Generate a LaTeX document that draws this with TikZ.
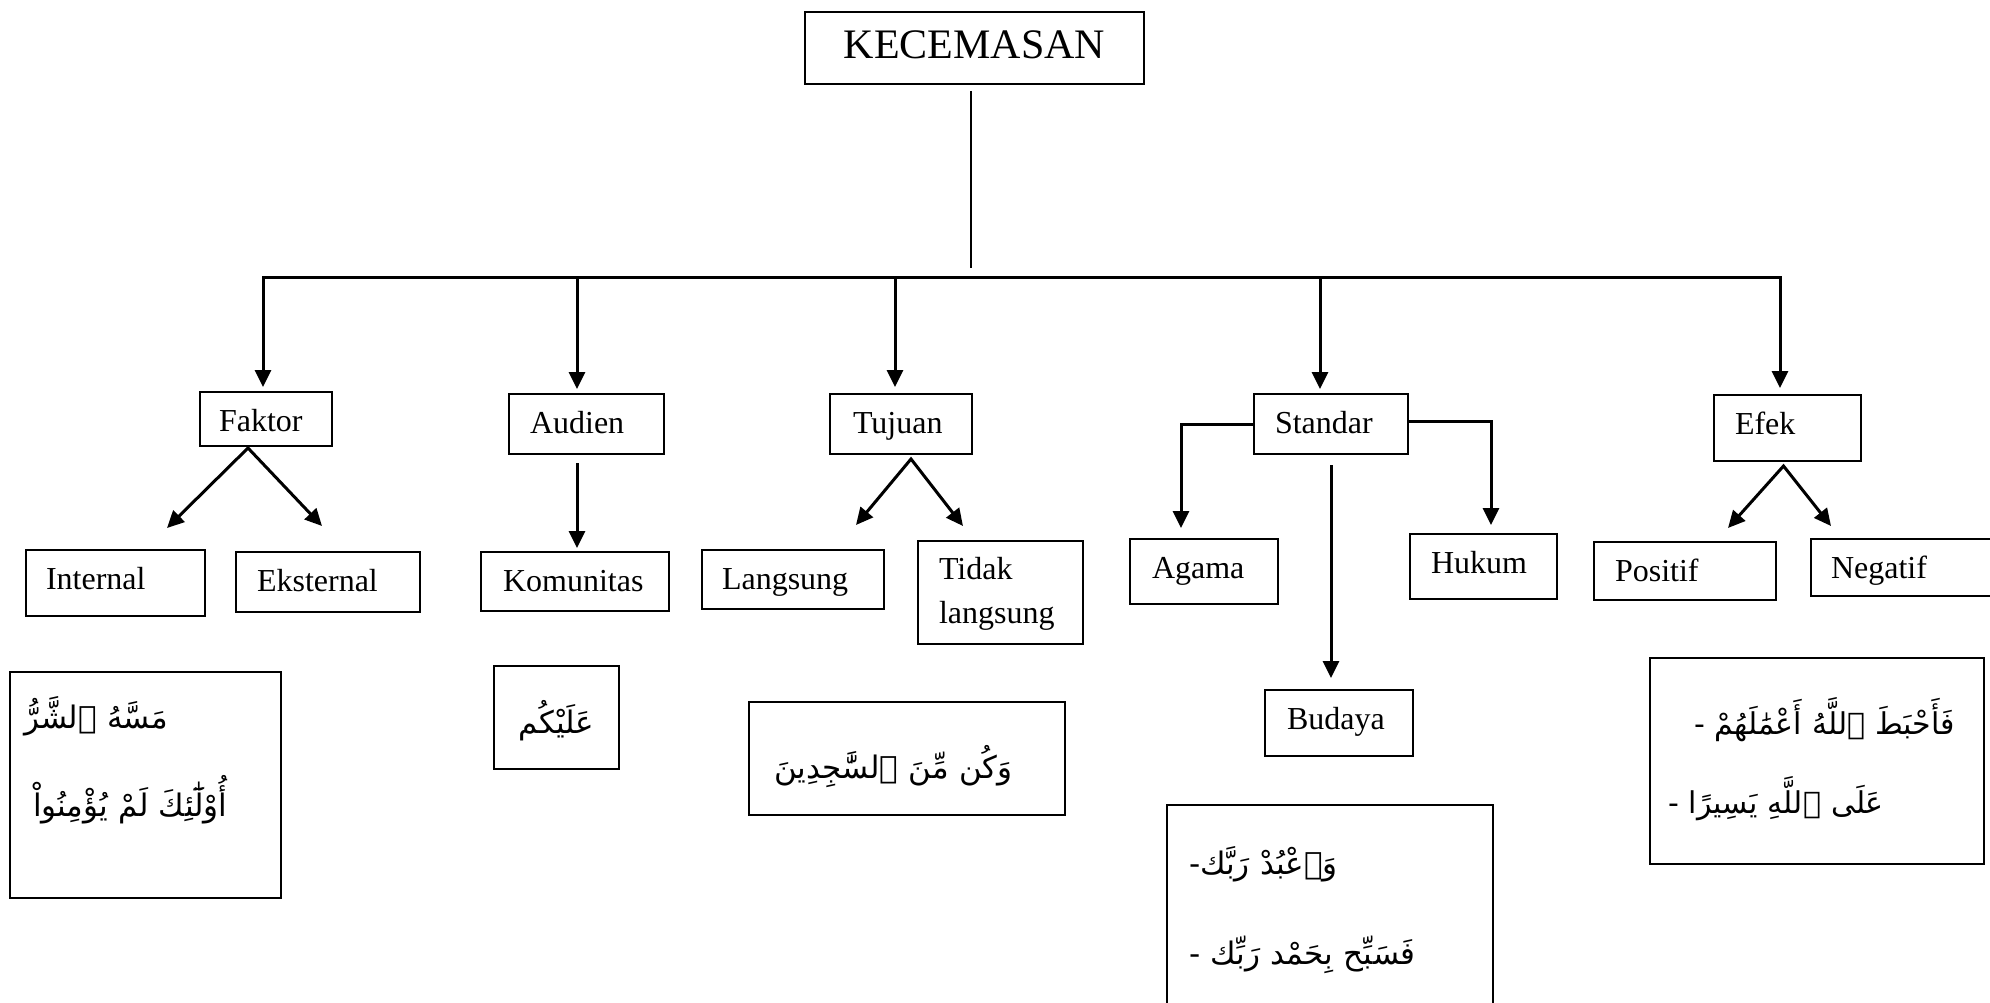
\documentclass[tikz,border=0pt]{standalone}
\usepackage{fontspec}
\setmainfont{Liberation Serif}
\newfontfamily\arabicfont[Script=Arabic]{DejaVu Sans}
\TeXXeTstate=1
\usetikzlibrary{arrows.meta,calc}

\tikzset{
  box/.style={draw, line width=2pt, rectangle, anchor=north west, inner ysep=0pt,
    align=left, font=\fontsize{32}{44}\selectfont},
  geom/.style n args={4}{text width=#1pt, inner xsep=#2pt, text height=#3pt, text depth=#4pt},
  arbox/.style={box, font=\arabicfont\fontsize{31}{88}\selectfont},
  link/.style={line width=3pt, line join=miter},
  tip/.tip={Triangle[length=17pt,width=16pt]},
  arr/.style={link, -tip},
  fork/.style={link, tip-tip},
}

\begin{document}
\begin{tikzpicture}[x=1pt,y=-1pt]
\clip (0,0) rectangle (1990,1003);
\fill[white] (0,0) rectangle (1990,1003);

% root
\node[box, align=center, geom={299}{20}{47}{25}, font=\fontsize{42}{50}\selectfont]
  (root) at (804,11) {KECEMASAN};

% second level
\node[box, geom={94}{19}{39}{15}]  (faktor)  at (199,391)  {Faktor};
\node[box, geom={113}{21}{39}{21}] (audien)  at (508,393)  {Audien};
\node[box, geom={96}{23}{39}{21}]  (tujuan)  at (829,393)  {Tujuan};
\node[box, geom={112}{21}{39}{21}] (standar) at (1253,393) {Standar};
\node[box, geom={105}{21}{39}{27}] (efek)    at (1713,394) {Efek};

% third level
\node[box, geom={139}{20}{39}{27}] (internal)  at (25,549)   {Internal};
\node[box, geom={142}{21}{39}{21}] (eksternal) at (235,551)  {Eksternal};
\node[box, geom={144}{22}{39}{20}] (komunitas) at (480,551)  {Komunitas};
\node[box, geom={142}{20}{39}{20}] (langsung)  at (701,549)  {Langsung};
\node[box, geom={123}{21}{38}{65}] (tidak)     at (917,540)  {Tidak\\langsung};
\node[box, geom={104}{22}{39}{26}] (agama)     at (1129,538) {Agama};
\node[box, geom={105}{21}{39}{26}] (hukum)     at (1409,533) {Hukum};
\node[box, geom={104}{22}{39}{27}] (budaya)    at (1264,689) {Budaya};
\node[box, geom={140}{21}{39}{19}] (positif)   at (1593,541) {Positif};
\node[box, geom={150}{20}{39}{18}] (negatif)   at (1810,538) {Negatif};

% verses
\node[arbox, geom={243}{14}{56}{170}] (q1) at (9,671)
  {\beginR مَسَّهُ ٱلشَّرُّ\endR\\\hspace*{9pt}\beginR أُوْلَٰٓئِكَ لَمْ يُؤْمِنُواْ\endR};
\node[arbox, align=center, geom={105}{10}{67}{36}] (q2) at (493,665)
  {\beginR عَلَيْكُم\endR};
\node[arbox, geom={266}{25}{76}{37}] (q3) at (748,701)
  {\beginR وَكُن مِّنَ ٱلسَّٰجِدِينَ\endR};
\node[arbox, geom={282}{22}{69}{137}, font=\arabicfont\fontsize{31}{90}\selectfont] (q4) at (1166,804)
  {\beginR وَٱعْبُدْ رَبَّك-\endR\\\beginR فَسَبِّح بِحَمْد رَبِّك -\endR};
\node[arbox, geom={298}{18}{76}{130}, font=\arabicfont\fontsize{30}{79}\selectfont] (q5) at (1649,657)
  {\hspace*{26pt}\beginR فَأَحْبَطَ ٱللَّهُ أَعْمَٰلَهُمْ -\endR\\\beginR عَلَى ٱللَّهِ يَسِيرًا -\endR};

% trunk and bar
\coordinate (trunkTop) at (971,91);
\coordinate (trunkEnd) at (971,268);
\draw[line width=2.2pt] (trunkTop) -- (trunkEnd);
\coordinate (barL) at (263,278);
\coordinate (barR) at (1780,278);
\coordinate (bA) at (577,278);
\coordinate (bT) at (895,278);
\coordinate (bS) at (1320,278);
\draw[fork, shorten <=4pt, shorten >=6pt]
  (barL |- faktor.north) -- (barL) -- (barR) -- (barR |- efek.north);
\draw[arr, shorten >=4pt] (bA) -- (bA |- audien.north);
\draw[arr, shorten >=6pt] (bT) -- (bT |- tujuan.north);
\draw[arr, shorten >=4pt] (bS) -- (bS |- standar.north);

% Faktor
\coordinate (fApex) at ($(faktor.south)+(-18,1)$);
\coordinate (fL) at (167,528);
\coordinate (fR) at (322,526);
\draw[fork] (fL) -- (fApex) -- (fR);

% Audien
\draw[arr, shorten >=3pt] ($(audien.south -| bA)+(0,8)$) -- (bA |- komunitas.north);

% Tujuan
\coordinate (tApex) at ($(tujuan.south)+(10,4)$);
\coordinate (tL) at (856,525);
\coordinate (tR) at (963,526);
\draw[fork] (tL) -- (tApex) -- (tR);

% Standar
\coordinate (agTip) at (1181,528);
\coordinate (hkTip) at (1491,525);
\coordinate (bdTop) at ($(standar.south)+(0,10)$);
\draw[arr] (standar.west) -| (agTip);
\draw[arr] ($(standar.east)+(0,-3)$) -| (hkTip);
\draw[arr, shorten >=11pt] (bdTop) -- (bdTop |- budaya.north);

% Efek
\coordinate (eApex) at ($(efek.south)+(-4,4)$);
\coordinate (eL) at (1728,528);
\coordinate (eR) at (1831,526);
\draw[fork] (eL) -- (eApex) -- (eR);
\end{tikzpicture}
\end{document}
